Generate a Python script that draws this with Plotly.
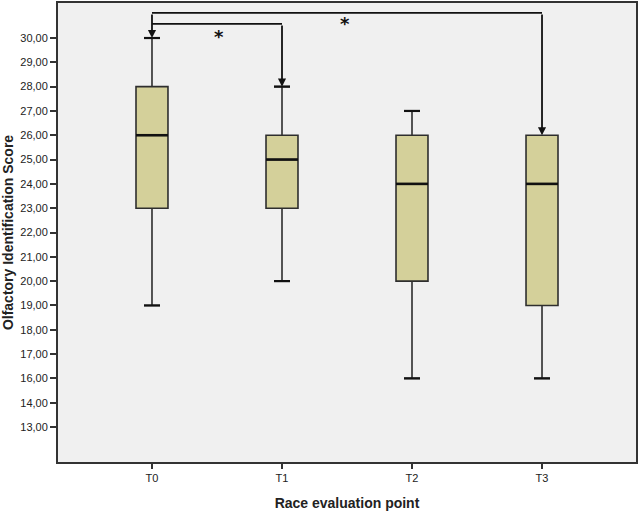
import plotly.graph_objects as go

categories = ["T0", "T1", "T2", "T3"]
minimum = [19, 20, 16, 16]
q1 = [23, 23, 20, 19]
median = [26, 25, 24, 24]
q3 = [28, 26, 26, 26]
maximum = [30, 28, 27, 26]

# SPSS-style ordinal y ticks (15 is skipped: "14,00" sits one step below "16,00")
tick_labels = ["13,00", "14,00"] + [f"{v},00" for v in range(16, 31)]
tick_positions = [14, 15] + list(range(16, 31))

# significance comparisons (index pairs)
comparisons = [(0, 3), (0, 1)]
bracket_levels = [31.03, 30.58]
star_pos = [(1.485, 30.58), (0.515, 30.08)]

xs = list(range(len(categories)))
box_w = 0.246
fill = "#D4D09A"
edge = "#2e2e2e"

fig = go.Figure()
fig.add_trace(go.Box(
    x=xs, q1=q1, median=median, q3=q3,
    lowerfence=minimum, upperfence=maximum,
    width=box_w, whiskerwidth=0.5,
    fillcolor=fill, line=dict(color=edge, width=1.6),
    boxpoints=False, showlegend=False, hoverinfo="skip",
))

shapes = []
for i, m in enumerate(median):
    shapes.append(dict(type="line", xref="x", yref="y",
                       x0=i - box_w / 2, x1=i + box_w / 2, y0=m, y1=m,
                       line=dict(color="#111111", width=2.6)))
# caps drawn thicker like SPSS
for i in xs:
    for v in (minimum[i], maximum[i]):
        if v == q3[i]:
            continue
        shapes.append(dict(type="line", xref="x", yref="y",
                           x0=i - box_w / 4, x1=i + box_w / 4, y0=v, y1=v,
                           line=dict(color="#111111", width=2.2)))

annotations = []
for (a, b), lev in zip(comparisons, bracket_levels):
    shapes.append(dict(type="line", xref="x", yref="y",
                       x0=a, x1=b, y0=lev, y1=lev,
                       line=dict(color="#111111", width=1.8)))
    annotations.append(dict(x=b, y=max(maximum[b], q3[b]), ax=b, ay=lev,
                            xref="x", yref="y", axref="x", ayref="y",
                            text="", showarrow=True, arrowhead=2,
                            arrowsize=0.9, arrowwidth=1.8, arrowcolor="#111111",
                            standoff=0, startstandoff=0))
annotations.append(dict(x=0, y=maximum[0], ax=0, ay=max(bracket_levels),
                        xref="x", yref="y", axref="x", ayref="y",
                        text="", showarrow=True, arrowhead=2,
                        arrowsize=0.9, arrowwidth=1.8, arrowcolor="#111111",
                        standoff=0, startstandoff=0))
for sx, sy in star_pos:
    annotations.append(dict(x=sx, y=sy, xref="x", yref="y", text="<b>*</b>",
                            showarrow=False,
                            font=dict(family="DejaVu Sans", size=18, color="#111111")))

fig.update_layout(
    width=640, height=514,
    margin=dict(l=58, r=4, t=3, b=52),
    paper_bgcolor="white", plot_bgcolor="#F0F0F0",
    shapes=shapes, annotations=annotations,
    font=dict(family="Liberation Sans", color="#222222"),
    xaxis=dict(
        range=[-0.723, 3.723], tickvals=xs, ticktext=categories,
        showgrid=False, zeroline=False, automargin=False,
        showline=True, mirror=True, linecolor="#333333", linewidth=2,
        ticks="outside", ticklen=5, tickcolor="#333333", tickwidth=1.5,
        tickfont=dict(size=11, color="#222222"),
        title=dict(text="<b>Race evaluation point</b>",
                   font=dict(size=14, color="#222222")),
    ),
    yaxis=dict(
        range=[12.56, 31.44], tickvals=tick_positions, ticktext=tick_labels,
        showgrid=False, zeroline=False, automargin=False,
        showline=True, mirror=True, linecolor="#333333", linewidth=2,
        ticks="outside", ticklen=6, tickcolor="#333333", tickwidth=1.5,
        tickfont=dict(size=11, color="#222222"),
        title=dict(text="<b>Olfactory Identification Score</b>",
                   font=dict(size=14, color="#222222")),
    ),
)

fig.write_html("out.html", config={"displayModeBar": False},
               post_script="document.body.style.margin='0';document.body.style.overflow='hidden';")
